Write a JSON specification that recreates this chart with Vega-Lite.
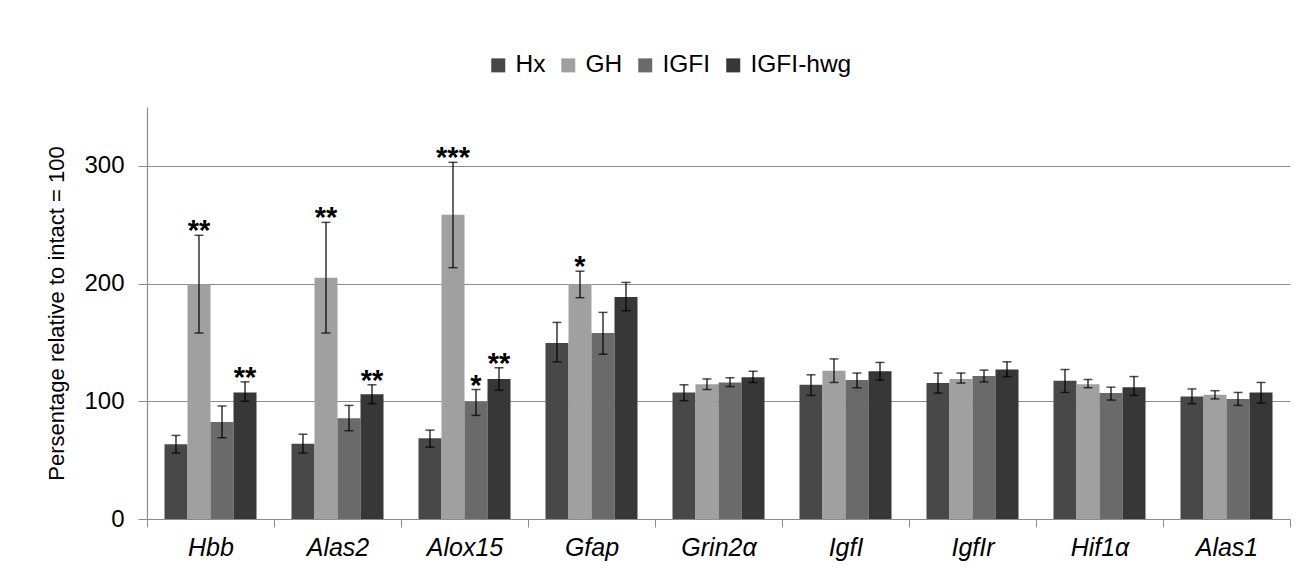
{
  "$schema": "https://vega.github.io/schema/vega-lite/v6.json",
  "width": 1143,
  "height": 412,
  "autosize": {"type": "none"},
  "padding": {"left": 147, "top": 107, "right": 22, "bottom": 64},
  "background": "white",
  "config": {
    "font": "Liberation Sans",
    "view": {"stroke": null},
    "axis": {"labelFont": "Liberation Sans", "titleFont": "Liberation Sans"}
  },
  "data": {
    "values": [
      {"gene": "Hbb", "group": "Hx", "value": 63.5, "lower": 56, "upper": 71, "sig": ""},
      {"gene": "Hbb", "group": "GH", "value": 199.5, "lower": 158, "upper": 241, "sig": "**"},
      {"gene": "Hbb", "group": "IGFI", "value": 82.5, "lower": 69, "upper": 96, "sig": ""},
      {"gene": "Hbb", "group": "IGFI-hwg", "value": 107.5, "lower": 100, "upper": 116.5, "sig": "**"},
      {"gene": "Alas2", "group": "Hx", "value": 64, "lower": 56, "upper": 72, "sig": ""},
      {"gene": "Alas2", "group": "GH", "value": 205, "lower": 158, "upper": 252, "sig": "**"},
      {"gene": "Alas2", "group": "IGFI", "value": 85.5, "lower": 75, "upper": 96.5, "sig": ""},
      {"gene": "Alas2", "group": "IGFI-hwg", "value": 106, "lower": 98, "upper": 114, "sig": "**"},
      {"gene": "Alox15", "group": "Hx", "value": 68.5, "lower": 61, "upper": 75.5, "sig": ""},
      {"gene": "Alox15", "group": "GH", "value": 258.5, "lower": 213.5, "upper": 303, "sig": "***"},
      {"gene": "Alox15", "group": "IGFI", "value": 99.5, "lower": 88, "upper": 110, "sig": "*"},
      {"gene": "Alox15", "group": "IGFI-hwg", "value": 119, "lower": 109.5, "upper": 128.5, "sig": "**"},
      {"gene": "Gfap", "group": "Hx", "value": 149.5, "lower": 133.5, "upper": 167, "sig": ""},
      {"gene": "Gfap", "group": "GH", "value": 199.5, "lower": 188, "upper": 210.5, "sig": "*"},
      {"gene": "Gfap", "group": "IGFI", "value": 158, "lower": 140, "upper": 175.5, "sig": ""},
      {"gene": "Gfap", "group": "IGFI-hwg", "value": 188.5, "lower": 177, "upper": 201, "sig": ""},
      {"gene": "Grin2α", "group": "Hx", "value": 107.5, "lower": 100.5, "upper": 114, "sig": ""},
      {"gene": "Grin2α", "group": "GH", "value": 114.5, "lower": 110, "upper": 119, "sig": ""},
      {"gene": "Grin2α", "group": "IGFI", "value": 116, "lower": 112.5, "upper": 120, "sig": ""},
      {"gene": "Grin2α", "group": "IGFI-hwg", "value": 120.5, "lower": 116, "upper": 125.5, "sig": ""},
      {"gene": "IgfI", "group": "Hx", "value": 114, "lower": 105, "upper": 122.5, "sig": ""},
      {"gene": "IgfI", "group": "GH", "value": 126, "lower": 116, "upper": 136, "sig": ""},
      {"gene": "IgfI", "group": "IGFI", "value": 118, "lower": 111.5, "upper": 124, "sig": ""},
      {"gene": "IgfI", "group": "IGFI-hwg", "value": 125.5, "lower": 118, "upper": 133, "sig": ""},
      {"gene": "IgfIr", "group": "Hx", "value": 115.5, "lower": 107, "upper": 124, "sig": ""},
      {"gene": "IgfIr", "group": "GH", "value": 119, "lower": 115.5, "upper": 124, "sig": ""},
      {"gene": "IgfIr", "group": "IGFI", "value": 121.5, "lower": 116.5, "upper": 126.5, "sig": ""},
      {"gene": "IgfIr", "group": "IGFI-hwg", "value": 127, "lower": 121, "upper": 133.5, "sig": ""},
      {"gene": "Hif1α", "group": "Hx", "value": 117.5, "lower": 107.5, "upper": 127, "sig": ""},
      {"gene": "Hif1α", "group": "GH", "value": 114.5, "lower": 111.5, "upper": 118.5, "sig": ""},
      {"gene": "Hif1α", "group": "IGFI", "value": 107, "lower": 101, "upper": 112, "sig": ""},
      {"gene": "Hif1α", "group": "IGFI-hwg", "value": 112, "lower": 105, "upper": 121, "sig": ""},
      {"gene": "Alas1", "group": "Hx", "value": 104, "lower": 98, "upper": 110.5, "sig": ""},
      {"gene": "Alas1", "group": "GH", "value": 105.5, "lower": 102, "upper": 109, "sig": ""},
      {"gene": "Alas1", "group": "IGFI", "value": 102, "lower": 96.5, "upper": 107.5, "sig": ""},
      {"gene": "Alas1", "group": "IGFI-hwg", "value": 107.5, "lower": 98.5, "upper": 116, "sig": ""}
    ]
  },
  "encoding": {
    "x": {
      "field": "gene",
      "type": "nominal",
      "sort": null,
      "scale": {"paddingInner": 0, "paddingOuter": 0},
      "axis": {
        "title": null,
        "labelAngle": 0,
        "labelFontSize": 25,
        "labelFontStyle": "italic",
        "labelColor": "black",
        "labelPadding": 8,
        "tickBand": "extent",
        "tickSize": 8,
        "tickColor": "#8c8c8c",
        "domainColor": "#8c8c8c",
        "domainWidth": 1.2,
        "grid": false
      }
    },
    "xOffset": {
      "field": "group",
      "type": "nominal",
      "sort": ["Hx", "GH", "IGFI", "IGFI-hwg"],
      "scale": {"paddingInner": 0, "paddingOuter": 0.76}
    }
  },
  "layer": [
    {
      "mark": {"type": "bar"},
      "encoding": {
        "y": {
          "field": "value",
          "type": "quantitative",
          "scale": {"domain": [0, 350], "nice": false},
          "axis": {
            "values": [0, 100, 200, 300],
            "title": "Persentage relative to intact = 100",
            "titleFontSize": 22,
            "titleFontWeight": "normal",
            "titleColor": "black",
            "titlePadding": 15,
            "labelFontSize": 24,
            "labelColor": "black",
            "labelPadding": 14,
            "tickSize": 9,
            "tickColor": "#8c8c8c",
            "domainColor": "#8c8c8c",
            "domainWidth": 1.2,
            "grid": true,
            "gridColor": "#8c8c8c",
            "gridWidth": 1.2
          }
        },
        "color": {
          "field": "group",
          "type": "nominal",
          "sort": ["Hx", "GH", "IGFI", "IGFI-hwg"],
          "scale": {
            "domain": ["Hx", "GH", "IGFI", "IGFI-hwg"],
            "range": ["#484848", "#a0a0a0", "#6a6a6a", "#373737"]
          },
          "legend": {
            "title": null,
            "orient": "none",
            "direction": "horizontal",
            "legendX": 339,
            "legendY": -54,
            "symbolType": "square",
            "symbolSize": 196,
            "symbolStrokeWidth": 0,
            "labelFontSize": 24.5,
            "labelColor": "black",
            "labelOffset": 5,
            "columnPadding": 10
          }
        }
      }
    },
    {
      "mark": {"type": "rule", "color": "black", "strokeWidth": 1.2},
      "encoding": {
        "y": {"field": "lower", "type": "quantitative"},
        "y2": {"field": "upper"}
      }
    },
    {
      "mark": {"type": "tick", "color": "black", "size": 9, "thickness": 1.5},
      "encoding": {
        "y": {"field": "upper", "type": "quantitative"}
      }
    },
    {
      "mark": {"type": "tick", "color": "black", "size": 9, "thickness": 1.5},
      "encoding": {
        "y": {"field": "lower", "type": "quantitative"}
      }
    },
    {
      "transform": [{"filter": "datum.sig != ''"}],
      "mark": {"type": "text", "fontSize": 29, "fontWeight": "bold", "color": "black", "baseline": "alphabetic", "dy": 5},
      "encoding": {
        "y": {"field": "upper", "type": "quantitative"},
        "text": {"field": "sig"}
      }
    }
  ]
}
